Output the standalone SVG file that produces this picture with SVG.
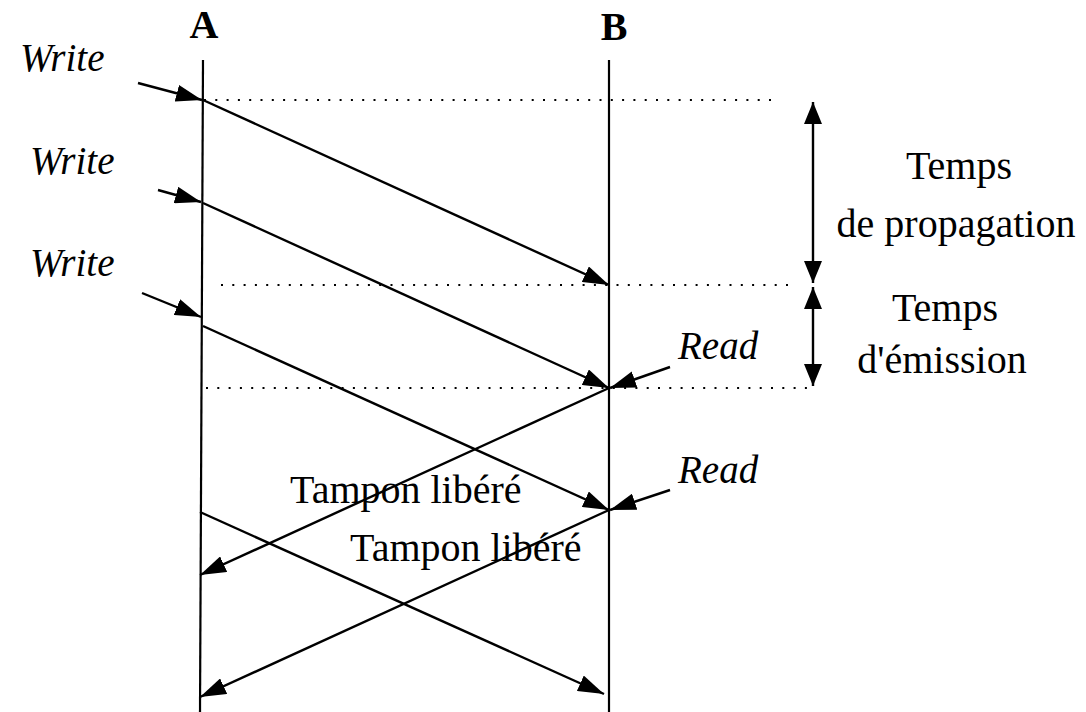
<svg xmlns="http://www.w3.org/2000/svg" width="1086" height="712" viewBox="0 0 1086 712">
<style>
text{font-family:"Liberation Serif","Times New Roman",serif;fill:#000}
.lbl{font-size:40px}
.it{font-size:39px;font-style:italic}
.hd{font-size:40px;font-weight:bold}
.ln{stroke:#000;stroke-width:2.2;fill:none}
.ar{stroke:#000;stroke-width:2.4;fill:none;marker-end:url(#ah)}
.dot{stroke:#000;stroke-width:2;stroke-dasharray:2 9.3;fill:none}
.dbl{stroke:#000;stroke-width:2.4;fill:none;marker-start:url(#ahs);marker-end:url(#ah2)}
</style>
<defs>
<marker id="ah" viewBox="0 0 26 17" markerWidth="26" markerHeight="17" refX="26" refY="8.5" orient="auto" markerUnits="userSpaceOnUse"><path d="M0,0 L26,8.5 L0,17 z" fill="#000"/></marker>
<marker id="ah2" viewBox="0 0 22 18" markerWidth="22" markerHeight="18" refX="22" refY="9" orient="auto" markerUnits="userSpaceOnUse"><path d="M0,0 L22,9 L0,18 z" fill="#000"/></marker>
<marker id="ahs" viewBox="0 0 22 18" markerWidth="22" markerHeight="18" refX="0" refY="9" orient="auto" markerUnits="userSpaceOnUse"><path d="M22,0 L0,9 L22,18 z" fill="#000"/></marker>
</defs>
<rect width="1086" height="712" fill="#fff"/>
<g id="nodeA">
<line class="ln" x1="203" y1="60" x2="200" y2="712"/>
<text class="hd" x="204" y="38" text-anchor="middle">A</text>
</g>
<g id="nodeB">
<line class="ln" x1="609" y1="60" x2="609" y2="712"/>
<text class="hd" x="614" y="40" text-anchor="middle">B</text>
</g>
<g id="guides">
<line class="dot" x1="204" y1="100" x2="776" y2="100"/>
<line class="dot" x1="221" y1="285" x2="796" y2="285"/>
<line class="dot" x1="206" y1="388" x2="816" y2="388"/>
</g>
<g id="connectors">
<line class="ar" x1="138" y1="83" x2="202" y2="100"/>
<line class="ar" x1="158" y1="190" x2="201" y2="202"/>
<line class="ar" x1="142" y1="293" x2="201" y2="317"/>
<line class="ar" x1="203" y1="100" x2="609" y2="285"/>
<line class="ar" x1="203" y1="203" x2="609" y2="388"/>
<line class="ar" x1="203" y1="326" x2="609" y2="510"/>
<line class="ar" x1="200" y1="512" x2="604" y2="694"/>
<line class="ar" x1="609" y1="388" x2="200" y2="575"/>
<line class="ar" x1="609" y1="510" x2="200" y2="697"/>
<line class="ar" x1="670" y1="367" x2="610" y2="388"/>
<line class="ar" x1="670" y1="490" x2="610" y2="510"/>
<line class="dbl" x1="813" y1="102" x2="813" y2="283"/>
<line class="dbl" x1="813" y1="287" x2="813" y2="386"/>
</g>
<g id="labels">
<text class="it" x="20" y="71">Write</text>
<text class="it" x="30" y="174">Write</text>
<text class="it" x="30" y="276">Write</text>
<text class="it" x="678" y="359">Read</text>
<text class="it" x="678" y="483">Read</text>
<text class="lbl" x="290" y="503">Tampon libéré</text>
<text class="lbl" x="350" y="561">Tampon libéré</text>
<text class="lbl" x="959" y="179" text-anchor="middle">Temps</text>
<text class="lbl" x="956" y="237" text-anchor="middle">de propagation</text>
<text class="lbl" x="945" y="321" text-anchor="middle">Temps</text>
<text class="lbl" x="942" y="373" text-anchor="middle">d'émission</text>
</g>
</svg>
